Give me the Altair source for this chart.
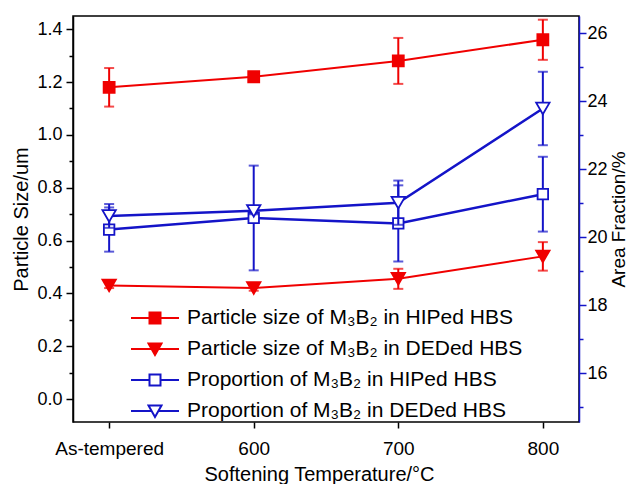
import altair as alt
import pandas as pd

categories = ["As-tempered", "600", "700", "800"]

hip_size = [1.18, 1.22, 1.28, 1.36]
hip_size_err = [0.073, 0.012, 0.087, 0.076]
ded_size = [0.43, 0.42, 0.455, 0.54]
ded_size_err = [0.01, 0.01, 0.038, 0.054]

hip_frac = [20.23, 20.57, 20.41, 21.27]
hip_frac_err = [0.65, 1.54, 1.12, 1.10]
ded_frac = [20.63, 20.78, 21.02, 23.79]
ded_frac_err = [0.35, 0.10, 0.65, 1.08]

series_names = [
    "Particle size of M₃B₂ in HIPed HBS",
    "Particle size of M₃B₂ in DEDed HBS",
    "Proportion of M₃B₂ in HIPed HBS",
    "Proportion of M₃B₂ in DEDed HBS",
]

RED = "#F00000"
BLUE = "#1414C8"
FONT = "Liberation Sans"

left_ticks = [round(0.1 * i, 1) for i in range(0, 15)]
right_ticks = list(range(15, 27))


def make_df(vals, errs, name):
    return pd.DataFrame({
        "cat": categories,
        "v": vals,
        "lo": [a - b for a, b in zip(vals, errs)],
        "hi": [a + b for a, b in zip(vals, errs)],
        "series": name,
    })


xenc = alt.X(
    "cat:N",
    sort=categories,
    scale=alt.Scale(type="point", domain=categories, padding=0.25),
    axis=alt.Axis(
        title="Softening Temperature/°C",
        labelAngle=0,
        labelFontSize=19,
        tickSize=6,
        labelPadding=11,
        titlePadding=6,
        titleX=246,
        domain=False,
        grid=False,
    ),
)

left_scale = alt.Scale(domain=[-0.087, 1.45], nice=False, zero=False)
right_scale = alt.Scale(domain=[14.57, 26.51], nice=False, zero=False)

left_axis = alt.Axis(
    title="Particle Size/um",
    values=left_ticks,
    labelExpr="abs(round(datum.value*10)) % 2 == 1 ? '' : format(datum.value, '.1f')",
    tickSize={"condition": {"test": "abs(round(datum.value*10)) % 2 == 1", "value": 4}, "value": 7},
    labelPadding=4,
    titlePadding=5,
    grid=False,
)

right_axis = alt.Axis(
    title="Area Fraction/%",
    orient="right",
    values=right_ticks,
    labelExpr="datum.value % 2 == 1 ? '' : format(datum.value, 'd')",
    tickSize={"condition": {"test": "datum.value % 2 == 1", "value": 4}, "value": 7},
    domainColor=BLUE,
    tickColor=BLUE,
    titleAngle=270,
    titleX=39,
    titleY=203,
    titleAlign="center",
    titleBaseline="middle",
    titleFontSize=19,
    labelPadding=1,
    grid=False,
)


def series_layers(df, color, shape, filled, scale, axis, lw, msize):
    base = alt.Chart(df).encode(x=xenc)
    yv = alt.Y("v:Q", scale=scale, axis=axis)
    line = base.mark_line(color=color, strokeWidth=lw).encode(y=yv)
    rule = base.mark_rule(color=color, strokeWidth=2).encode(
        y=alt.Y("lo:Q", scale=scale, axis=axis), y2="hi:Q"
    )
    cap_lo = base.mark_tick(color=color, thickness=2, size=10).encode(
        y=alt.Y("lo:Q", scale=scale, axis=axis)
    )
    cap_hi = base.mark_tick(color=color, thickness=2, size=10).encode(
        y=alt.Y("hi:Q", scale=scale, axis=axis)
    )
    pts = base.mark_point(
        shape=shape,
        size=msize,
        filled=True,
        fill=color if filled else "white",
        stroke=color,
        strokeWidth=1.8,
        opacity=1,
    ).encode(y=yv)
    return [line, rule, cap_lo, cap_hi, pts]


df_hs = make_df(hip_size, hip_size_err, series_names[0])
df_ds = make_df(ded_size, ded_size_err, series_names[1])
df_hf = make_df(hip_frac, hip_frac_err, series_names[2])
df_df = make_df(ded_frac, ded_frac_err, series_names[3])

sym_paths = [
    "M-2.4,0H-0.55M0.55,0H2.4M-0.55,-0.55H0.55V0.55H-0.55Z",
    "M-2.4,0H-0.34M0.34,0H2.4M-0.65,-0.55L0.65,-0.55L0,0.6Z",
    "M-2.4,0H-0.55M0.55,0H2.4M-0.55,-0.55H0.55V0.55H-0.55Z",
    "M-2.4,0H-0.34M0.34,0H2.4M-0.65,-0.55L0.65,-0.55L0,0.6Z",
]

legend = alt.Legend(
    title=None,
    orient="none",
    legendX=71,
    legendY=291,
    padding=0,
    labelFont=FONT,
    labelFontSize=21,
    labelColor="black",
    labelLimit=0,
    labelOffset=21,
    rowPadding=10,
    symbolSize=400,
    symbolStrokeWidth=2,
    symbolOpacity=1,
)

legend_df = pd.DataFrame({
    "cat": [categories[0]] * 4,
    "v": [0.5] * 4,
    "series": series_names,
})

legend_layer = alt.Chart(legend_df).mark_point(opacity=0, size=0).encode(
    x=xenc,
    y=alt.Y("v:Q", scale=left_scale, axis=left_axis),
    shape=alt.Shape("series:N", sort=series_names,
                    scale=alt.Scale(domain=series_names, range=sym_paths), legend=legend),
    stroke=alt.Stroke("series:N", sort=series_names,
                      scale=alt.Scale(domain=series_names, range=[RED, RED, BLUE, BLUE]), legend=legend),
    fill=alt.Fill("series:N", sort=series_names,
                  scale=alt.Scale(domain=series_names, range=[RED, RED, "white", "white"]), legend=legend),
)

left_group = alt.layer(
    *series_layers(df_hs, RED, "square", True, left_scale, left_axis, 2, 121),
    *series_layers(df_ds, RED, "triangle-down", True, left_scale, left_axis, 2, 180),
    legend_layer,
)

right_group = alt.layer(
    *series_layers(df_hf, BLUE, "square", False, right_scale, right_axis, 2.5, 110),
    *series_layers(df_df, BLUE, "triangle-down", False, right_scale, right_axis, 2.5, 180),
)

chart = alt.layer(left_group, right_group).resolve_scale(y="independent").properties(
    width=506,
    height=406,
    background="white",
    autosize=alt.AutoSizeParams(type="none"),
    padding={"left": 65, "top": 8, "right": 48, "bottom": 62},
).configure_view(
    stroke="black", strokeWidth=1.5
).configure_axis(
    labelFont=FONT,
    titleFont=FONT,
    labelFontSize=18,
    titleFontSize=20,
    titleFontWeight="normal",
    labelColor="black",
    titleColor="black",
    domainColor="black",
    tickColor="black",
    domainWidth=1.5,
    tickWidth=1.5,
)

chart.save("out.html", embed_options={"renderer": "svg", "actions": False})
